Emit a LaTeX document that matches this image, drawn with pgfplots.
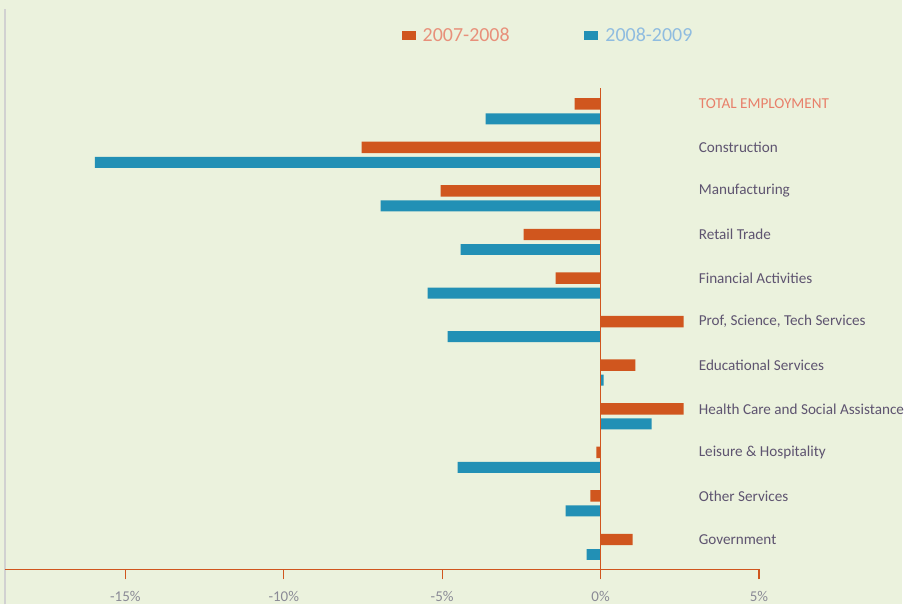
\documentclass[border=0pt]{standalone}
\usepackage{fontspec}
\setmainfont{Carlito}
\usepackage{pgfplots}
\pgfplotsset{compat=1.18}
\definecolor{bg}{HTML}{EBF2DD}
\definecolor{orng}{HTML}{D0561E}
\definecolor{blu}{HTML}{2290B5}
\definecolor{lblc}{HTML}{5E5470}
\definecolor{totc}{HTML}{E8806A}
\definecolor{leg1}{HTML}{E8907A}
\definecolor{leg2}{HTML}{8FBCE0}
\definecolor{tickc}{HTML}{8A8A96}
\begin{document}
\begin{tikzpicture}
\fill[bg] (0,0) rectangle (452pt,303pt);
\draw[black!18, line width=0.8pt] (2.5pt,0) -- (2.5pt,298.5pt);
\begin{axis}[
    at={(2.5pt,17.5pt)}, anchor=south west,
    scale only axis, width=378pt, height=241.5pt,
    xmin=-18.8, xmax=5, ymin=-0.515, ymax=10.54,
    axis x line=bottom, axis y line=none,
    axis line style={-, orng, line width=0.7pt},
    xtick={-15,-10,-5,0,5},
    xticklabels={-15\%,-10\%,-5\%,0\%,5\%},
    tick align=outside, major tick length=5pt,
    tick style={orng, line width=0.6pt},
    xticklabel style={font=\fontsize{7.5}{8}\selectfont, text=tickc, yshift=-2.5pt},
    /pgf/number format/assume math mode=true,
    clip=false,
    legend columns=2,
    legend style={at={(0.721,1.108)}, anchor=center, draw=none, fill=none,
        font=\fontsize{10}{11}\selectfont, column sep=2pt,
        /tikz/every even column/.append style={column sep=36pt},
        nodes={inner sep=1.5pt}},
]
\addplot[xbar, bar width=5.75pt, bar shift=0pt, fill=orng, draw=none,
    legend image code/.code={\fill[orng] (0pt,-2.2pt) rectangle (7pt,2.2pt);}] coordinates {
    (-0.82,10.172) (-7.54,9.172) (-5.05,8.172) (-2.43,7.172) (-1.42,6.172)
    (2.62,5.172) (1.10,4.172) (2.62,3.172) (-0.13,2.172) (-0.32,1.172) (1.01,0.172)
};
\addlegendentry{\textcolor{leg1}{2007-2008}}
\addplot[xbar, bar width=5.5pt, bar shift=0pt, fill=blu, draw=none,
    legend image code/.code={\fill[blu] (0pt,-2.2pt) rectangle (7pt,2.2pt);}] coordinates {
    (-3.63,9.828) (-15.96,8.828) (-6.94,7.828) (-4.42,6.828) (-5.46,5.828)
    (-4.83,4.828) (0.10,3.828) (1.61,2.828) (-4.51,1.828) (-1.10,0.828) (-0.44,-0.172)
};
\addlegendentry{\textcolor{leg2}{2008-2009}}
\draw[orng, line width=0.6pt] (axis cs:0,-0.515) -- (axis cs:0,10.54);
\begin{scope}[every node/.style={anchor=west, font=\fontsize{7.6}{8}\selectfont, text=lblc, inner sep=0pt}]
\node[text=totc] at (axis cs:3.09,10.172) {TOTAL EMPLOYMENT};
\node at (axis cs:3.09,9.172) {Construction};
\node at (axis cs:3.09,8.172) {Manufacturing};
\node at (axis cs:3.09,7.172) {Retail Trade};
\node at (axis cs:3.09,6.172) {Financial Activities};
\node at (axis cs:3.09,5.172) {Prof, Science, Tech Services};
\node at (axis cs:3.09,4.172) {Educational Services};
\node at (axis cs:3.09,3.172) {Health Care and Social Assistance};
\node at (axis cs:3.09,2.172) {Leisure \& Hospitality};
\node at (axis cs:3.09,1.172) {Other Services};
\node at (axis cs:3.09,0.172) {Government};
\end{scope}
\end{axis}
\end{tikzpicture}
\end{document}
